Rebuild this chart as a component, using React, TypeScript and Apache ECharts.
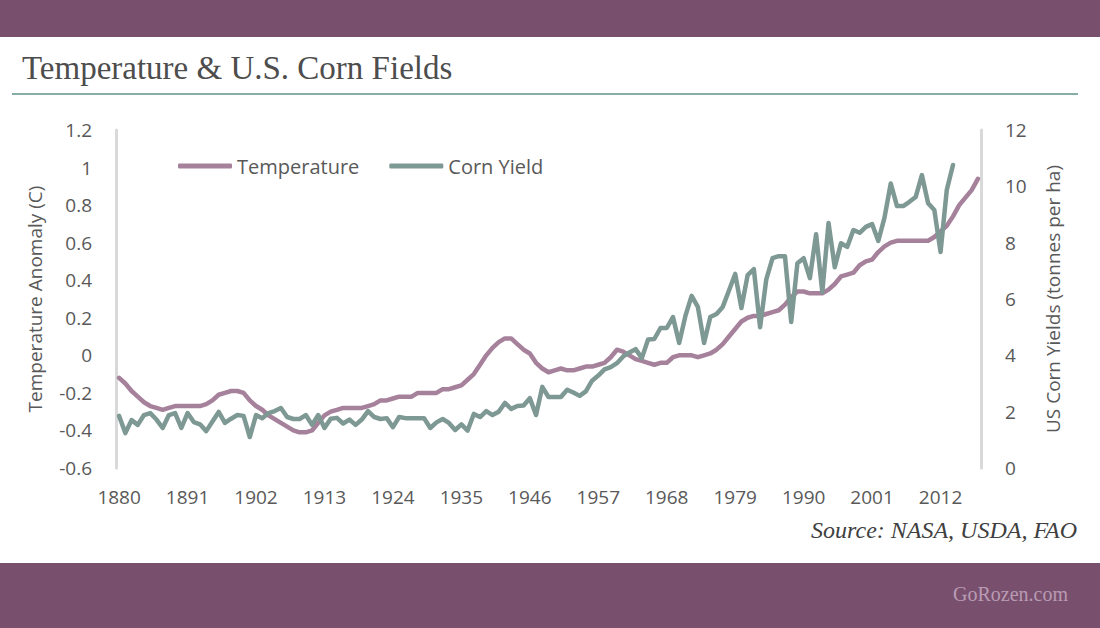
import React, { useEffect, useRef } from "react";
import * as echarts from "echarts";

const START_YEAR = 1880;
const END_YEAR = 2018;
const years: string[] = [];
for (let y = START_YEAR; y <= END_YEAR; y++) years.push(String(y));

// Temperature anomaly (C), smoothed, 1880-2018
const temperature: number[] = [
  -0.12, -0.15, -0.19, -0.22, -0.25, -0.27, -0.28, -0.29, -0.28, -0.27,
  -0.27, -0.27, -0.27, -0.27, -0.26, -0.24, -0.21, -0.2, -0.19, -0.19,
  -0.2, -0.24, -0.27, -0.29, -0.32, -0.34, -0.36, -0.38, -0.4, -0.41,
  -0.41, -0.4, -0.36, -0.32, -0.3, -0.29, -0.28, -0.28, -0.28, -0.28,
  -0.27, -0.26, -0.24, -0.24, -0.23, -0.22, -0.22, -0.22, -0.2, -0.2,
  -0.2, -0.2, -0.18, -0.18, -0.17, -0.16, -0.13, -0.1, -0.05, 0.0,
  0.04, 0.07, 0.09, 0.09, 0.06, 0.03, 0.01, -0.04, -0.07, -0.09,
  -0.08, -0.07, -0.08, -0.08, -0.07, -0.06, -0.06, -0.05, -0.04, -0.01,
  0.03, 0.02, 0.0, -0.02, -0.03, -0.04, -0.05, -0.04, -0.04, -0.01,
  0.0, 0.0, 0.0, -0.01, 0.0, 0.01, 0.03, 0.06, 0.1, 0.14,
  0.18, 0.2, 0.21, 0.21, 0.22, 0.23, 0.24, 0.27, 0.31, 0.34,
  0.34, 0.33, 0.33, 0.33, 0.35, 0.38, 0.42, 0.43, 0.44, 0.48,
  0.5, 0.51, 0.55, 0.58, 0.6, 0.61, 0.61, 0.61, 0.61, 0.61,
  0.61, 0.63, 0.66, 0.69, 0.74, 0.8, 0.84, 0.88, 0.94,
];

// US corn yield (tonnes per ha), 1880-2014
const cornYield: number[] = [
  1.85, 1.24, 1.7, 1.53, 1.88, 1.95, 1.72, 1.42, 1.88, 1.95,
  1.42, 1.95, 1.63, 1.55, 1.31, 1.65, 1.99, 1.6, 1.75, 1.88,
  1.85, 1.1, 1.88, 1.77, 1.95, 2.02, 2.13, 1.81, 1.74, 1.74,
  1.88, 1.53, 1.88, 1.42, 1.75, 1.78, 1.58, 1.72, 1.53, 1.72,
  2.02, 1.81, 1.74, 1.77, 1.45, 1.81, 1.77, 1.77, 1.77, 1.77,
  1.42, 1.62, 1.74, 1.6, 1.35, 1.55, 1.33, 1.92, 1.81, 2.02,
  1.88, 2.0, 2.31, 2.1, 2.2, 2.22, 2.48, 1.88, 2.88, 2.52,
  2.52, 2.52, 2.78, 2.68, 2.56, 2.72, 3.1, 3.28, 3.5, 3.58,
  3.72, 3.96, 4.1, 4.22, 3.9, 4.56, 4.58, 4.97, 4.97, 5.36,
  4.44, 5.4, 6.11, 5.72, 4.44, 5.36, 5.47, 5.72, 6.3, 6.89,
  5.68, 6.85, 7.06, 5.0, 6.7, 7.45, 7.52, 7.52, 5.18, 7.27,
  7.45, 6.74, 8.3, 6.25, 8.7, 7.13, 7.98, 7.85, 8.45, 8.35,
  8.56, 8.66, 8.06, 8.9, 10.1, 9.3, 9.3, 9.45, 9.62, 10.4,
  9.4, 9.16, 7.67, 9.87, 10.76,
];

const TITLE = "Temperature & U.S. Corn Fields";
const SOURCE = "Source: NASA, USDA, FAO";
const BRAND = "GoRozen.com";

const PURPLE = "#78506e";
const TEMP_COLOR = "#a6819b";
const CORN_COLOR = "#7e9893";
const TEXT = "#595959";
const SANS = "'Open Sans', 'Noto Sans', sans-serif";
const SERIF = "'Liberation Serif', 'DejaVu Serif', serif";

export default function App() {
  const ref = useRef<HTMLDivElement>(null);
  useEffect(() => {
    if (!ref.current) return;
    const chart = echarts.init(ref.current, undefined, { renderer: "svg" });
    chart.setOption({
      animation: false,
      backgroundColor: "#ffffff",
      graphic: [
        { type: "rect", left: 0, top: 0, shape: { width: 1100, height: 37 }, style: { fill: PURPLE }, silent: true },
        { type: "rect", left: 0, top: 563, shape: { width: 1100, height: 65 }, style: { fill: PURPLE }, silent: true },
        {
          type: "text", left: 22, top: 51,
          style: { text: TITLE, fill: "#4d4d4d", font: `33px ${SERIF}` },
        },
        { type: "line", shape: { x1: 12, y1: 94, x2: 1078, y2: 94 }, style: { stroke: "#86aea6", lineWidth: 2 } },
        {
          type: "text", right: 23, top: 518,
          style: { text: SOURCE, fill: "#404040", font: `italic 24px ${SERIF}` },
        },
        {
          type: "text", right: 32, top: 584,
          style: { text: BRAND, fill: "#b99bb3", font: `20px ${SERIF}` },
        },
      ],
      legend: {
        left: 178,
        top: 156,
        padding: 0,
        icon: "roundRect",
        itemWidth: 54,
        itemHeight: 5,
        itemGap: 30,
        textStyle: { color: TEXT, fontSize: 20, fontFamily: SANS },
        data: ["Temperature", "Corn Yield"],
      },
      grid: { left: 116, right: 119, top: 130, bottom: 160, containLabel: false },
      xAxis: {
        type: "category",
        data: years,
        boundaryGap: true,
        axisLine: { show: false },
        axisTick: { show: false },
        axisLabel: { interval: 10, color: TEXT, fontSize: 19, fontFamily: SANS, margin: 19 },
        splitLine: { show: false },
      },
      yAxis: [
        {
          type: "value",
          min: -0.6,
          max: 1.2,
          interval: 0.2,
          name: "Temperature Anomaly (C)",
          nameLocation: "middle",
          nameGap: 72,
          nameTextStyle: { color: TEXT, fontSize: 19, fontFamily: SANS },
          axisLine: { show: true, lineStyle: { color: "#d9d9d9", width: 3 } },
          axisTick: { show: false },
          splitLine: { show: false },
          axisLabel: {
            color: TEXT, fontSize: 19, fontFamily: SANS, margin: 24,
            formatter: (v: number) => String(parseFloat(v.toFixed(1))),
          },
        },
        {
          type: "value",
          min: 0,
          max: 12,
          interval: 2,
          name: "US Corn Yields (tonnes per ha)",
          nameLocation: "middle",
          nameGap: 62,
          nameTextStyle: { color: TEXT, fontSize: 19, fontFamily: SANS },
          axisLine: { show: true, lineStyle: { color: "#d9d9d9", width: 3 } },
          axisTick: { show: false },
          splitLine: { show: false },
          axisLabel: { color: TEXT, fontSize: 19, fontFamily: SANS, margin: 24 },
        },
      ],
      series: [
        {
          name: "Temperature",
          type: "line",
          yAxisIndex: 0,
          data: temperature,
          symbol: "none",
          lineStyle: { color: TEMP_COLOR, width: 4.5, cap: "round", join: "round" },
          itemStyle: { color: TEMP_COLOR },
        },
        {
          name: "Corn Yield",
          type: "line",
          yAxisIndex: 1,
          data: cornYield,
          symbol: "none",
          lineStyle: { color: CORN_COLOR, width: 4.5, cap: "round", join: "round" },
          itemStyle: { color: CORN_COLOR },
        },
      ],
    });
    return () => chart.dispose();
  }, []);
  return (
    <div
      ref={ref}
      style={{ position: "absolute", left: 0, top: 0, width: 1100, height: 628 }}
    />
  );
}
